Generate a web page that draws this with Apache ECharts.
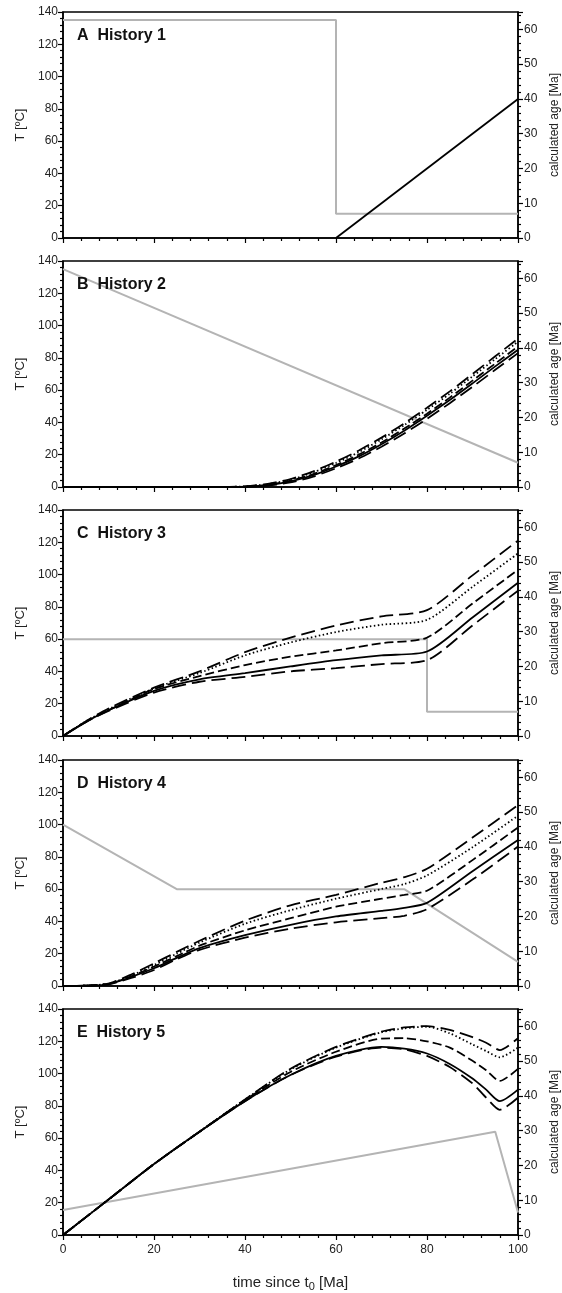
<!DOCTYPE html>
<html>
<head>
<meta charset="utf-8">
<script src="https://cdn.jsdelivr.net/npm/echarts@6/dist/echarts.min.js"></script>
<style>
    html, body { margin: 0; padding: 0; background: #fff; }
    #chart { width: 562px; height: 1293px; }
</style>
</head>
<body>
<div id="chart"></div>
<script>
// panel labels
var panelTitles = ['A  History 1', 'B  History 2', 'C  History 3', 'D  History 4', 'E  History 5'];

// gray temperature histories [time Ma, T degC] (left axis)
var tempA = [[0, 135], [60, 135], [60, 15], [100, 15]];
var tempB = [[0, 135], [100, 15]];
var tempC = [[0, 60], [80, 60], [80, 15], [100, 15]];
var tempD = [[0, 100], [25, 60], [75, 60], [100, 15]];
var tempE = [[0, 15.5], [95, 64], [100, 14]];

// calculated ages [Ma] (right axis), five models per panel:
// long dash (upper), dotted, dash, solid, long dash (lower)
var timeA = [60, 100];
var agesA = [
    [0, 40]
];

var timeB = [0, 10, 20, 30, 35, 40, 45, 50, 55, 60, 65, 70, 75, 80, 85, 90, 95, 100];
var agesB = [
    [0, 0, 0, 0, 0, 0.2, 0.9, 2.3, 4.5, 7.3, 10.5, 14.2, 18.3, 22.8, 27.5, 32.5, 37.6, 42.7],
    [0, 0, 0, 0, 0, 0.2, 0.8, 2.1, 4.2, 6.9, 10.0, 13.7, 17.8, 22.2, 26.8, 31.8, 36.8, 41.8],
    [0, 0, 0, 0, 0, 0.1, 0.6, 1.8, 3.7, 6.3, 9.3, 12.8, 16.8, 21.1, 25.7, 30.6, 35.5, 40.4],
    [0, 0, 0, 0, 0, 0.1, 0.5, 1.6, 3.4, 5.9, 8.8, 12.3, 16.2, 20.5, 25.0, 29.8, 34.7, 39.5],
    [0, 0, 0, 0, 0, 0, 0.4, 1.3, 3.0, 5.4, 8.2, 11.6, 15.4, 19.6, 24.1, 28.8, 33.7, 38.5]
];

var timeC = [0, 5, 10, 20, 30, 40, 50, 60, 70, 80, 90, 100];
var agesC = [
    [0, 4.2, 7.9, 13.9, 18.6, 24.1, 28.3, 31.8, 34.4, 36.2, 46.2, 56.2],
    [0, 4.2, 7.7, 13.7, 18.1, 23.2, 26.9, 29.9, 32.0, 33.4, 42.9, 52.5],
    [0, 4.1, 7.4, 13.5, 17.2, 20.4, 22.8, 24.6, 26.7, 28.3, 38.1, 47.8],
    [0, 4.0, 7.4, 13.0, 16.3, 18.1, 20.0, 21.8, 23.2, 24.3, 34.1, 44.1],
    [0, 4.0, 7.2, 12.5, 15.6, 17.0, 18.6, 19.5, 20.7, 21.8, 31.8, 41.8]
];

var timeD = [0, 5, 10, 15, 20, 25, 30, 40, 50, 60, 70, 75, 80, 90, 100];
var agesD = [
    [0, 0.1, 0.7, 3.3, 6.5, 9.8, 13.0, 18.8, 23.2, 26.2, 29.7, 31.3, 33.7, 42.7, 52.0],
    [0, 0.1, 0.7, 3.0, 6.0, 9.3, 12.5, 17.9, 21.8, 25.1, 27.9, 29.3, 31.8, 39.9, 49.0],
    [0, 0.1, 0.6, 2.8, 5.6, 8.6, 11.6, 16.0, 19.5, 22.8, 25.1, 26.2, 27.4, 36.2, 45.6],
    [0, 0.1, 0.5, 2.6, 5.1, 8.1, 10.9, 14.6, 17.6, 20.0, 21.6, 22.5, 23.9, 33.0, 42.0],
    [0, 0.1, 0.5, 2.3, 4.6, 7.7, 10.4, 13.9, 16.5, 18.3, 19.5, 20.2, 22.1, 30.6, 40.1]
];

var timeE = [0, 10, 20, 30, 40, 50, 60, 70, 75, 80, 85, 90, 93, 96, 100];
var agesE = [
    [0, 10.2, 20.4, 29.7, 39.0, 47.8, 54.1, 58.5, 59.7, 60.1, 59.0, 56.9, 55.3, 53.2, 56.6],
    [0, 10.2, 20.4, 29.7, 39.0, 47.6, 53.9, 58.3, 59.4, 59.9, 58.0, 54.8, 52.9, 51.1, 53.9],
    [0, 10.2, 20.4, 29.7, 38.8, 46.9, 52.7, 56.5, 56.6, 55.7, 53.9, 50.1, 47.4, 44.3, 47.8],
    [0, 10.2, 20.4, 29.7, 38.5, 46.0, 51.5, 54.1, 53.6, 52.2, 49.2, 45.0, 41.8, 38.5, 41.8],
    [0, 10.2, 20.4, 29.7, 38.5, 46.0, 51.3, 53.9, 53.4, 51.5, 48.3, 43.6, 39.5, 36.0, 39.5]
];

var tempLists = [tempA, tempB, tempC, tempD, tempE];
var timeLists = [timeA, timeB, timeC, timeD, timeE];
var ageLists = [agesA, agesB, agesC, agesD, agesE];

var lineTypes = [[14, 6], [1.5, 2.5], [9, 4], 'solid', [14, 6]];

var gridTops = [12, 261, 510, 760, 1009];
var gridH = 226;
var font = 'Liberation Sans, Arial, sans-serif';

var chart = echarts.init(document.getElementById('chart'), null, { renderer: 'canvas' });

var grids = [], xAxes = [], yAxes = [], series = [], titles = [];

function tickStyle(len) {
    return { show: true, length: len, lineStyle: { color: '#000', width: 1.2 } };
}

for (var i = 0; i < 5; i++) {
    var last = (i === 4);
    grids.push({
        left: 63, right: 44, top: gridTops[i], height: gridH,
        outerBoundsMode: 'none', containLabel: false,
        show: true, borderColor: '#000', borderWidth: 1.5, backgroundColor: 'transparent'
    });
    titles.push({
        text: panelTitles[i], left: 72, top: gridTops[i] + 11,
        textStyle: { fontFamily: font, fontSize: 16, fontWeight: 'bold', color: '#111' }
    });
    xAxes.push({
        type: 'value', gridIndex: i, min: 0, max: 100, interval: 20,
        axisLine: { onZero: false, lineStyle: { color: '#000', width: 1.5 } },
        axisTick: tickStyle(5),
        minorTick: { show: true, splitNumber: 5, length: 3, lineStyle: { color: '#000', width: 1.2 } },
        splitLine: { show: false },
        axisLabel: { show: last, fontFamily: font, fontSize: 12, color: '#222', margin: 9 },
        name: last ? 'time since t{sub|0} [Ma]' : '',
        nameLocation: 'middle', nameGap: 38,
        nameTextStyle: {
            fontFamily: font, fontSize: 15, color: '#222',
            rich: { sub: { fontFamily: font, fontSize: 11, color: '#222', verticalAlign: 'bottom', padding: [8, 0, 0, 0] } }
        }
    });
    yAxes.push({
        type: 'value', gridIndex: i, min: 0, max: 140, interval: 20, position: 'left',
        axisLine: { show: true, lineStyle: { color: '#000', width: 1.5 } },
        axisTick: tickStyle(5),
        minorTick: { show: true, splitNumber: 5, length: 3, lineStyle: { color: '#000', width: 1.2 } },
        splitLine: { show: false },
        axisLabel: { fontFamily: font, fontSize: 12, color: '#222', margin: 5 },
        name: 'T [ºC]', nameLocation: 'middle', nameGap: 34, nameRotate: 90,
        nameTextStyle: { fontFamily: font, fontSize: 13, color: '#222' }
    });
    yAxes.push({
        type: 'value', gridIndex: i, min: 0, max: 65, interval: 10, position: 'right',
        axisLine: { show: true, lineStyle: { color: '#000', width: 1.5 } },
        axisTick: tickStyle(5),
        minorTick: { show: true, splitNumber: 5, length: 3, lineStyle: { color: '#000', width: 1.2 } },
        splitLine: { show: false },
        axisLabel: { fontFamily: font, fontSize: 12, color: '#222', margin: 6, showMaxLabel: false },
        name: 'calculated age [Ma]', nameLocation: 'middle', nameGap: 31, nameRotate: 90,
        nameTextStyle: { fontFamily: font, fontSize: 12, color: '#222' }
    });

    // temperature history
    series.push({
        type: 'line', xAxisIndex: i, yAxisIndex: 2 * i, data: tempLists[i],
        symbol: 'none', silent: true,
        lineStyle: { color: '#b4b4b4', width: 2 }, z: 2
    });

    // calculated ages
    var t = timeLists[i];
    ageLists[i].forEach(function (ages, k) {
        var pts = t.map(function (x, j) { return [x, ages[j]]; });
        series.push({
            type: 'line', xAxisIndex: i, yAxisIndex: 2 * i + 1, data: pts,
            symbol: 'none', silent: true, smooth: 0.25,
            lineStyle: { color: '#000', width: 1.8, type: ageLists[i].length === 1 ? 'solid' : lineTypes[k] },
            z: 3
        });
    });
}

chart.setOption({
    animation: false,
    title: titles,
    grid: grids,
    xAxis: xAxes,
    yAxis: yAxes,
    series: series
});
</script>
</body>
</html>
